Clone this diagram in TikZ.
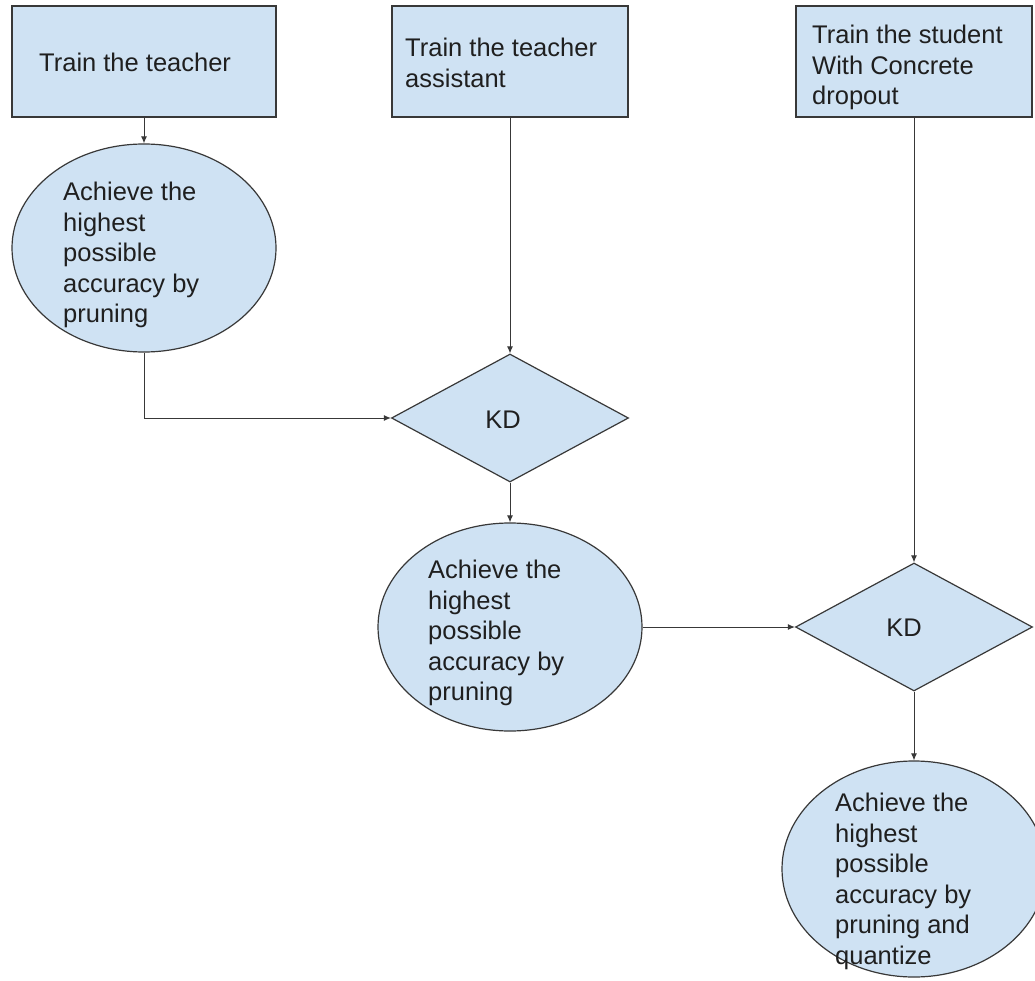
\documentclass[tikz,border=0pt]{standalone}
\usepackage{fontspec}
\setmainfont{Liberation Sans}
\usetikzlibrary{shapes.geometric,arrows.meta}
\definecolor{shapefill}{HTML}{CFE2F3}
\definecolor{outline}{HTML}{383838}
\definecolor{ink}{HTML}{1F1F1F}
\begin{document}
\begin{tikzpicture}[x=1pt,y=-1pt,
  shapebase/.style={draw=outline,fill=shapefill,line width=1.2pt,inner sep=0pt},
  procbox/.style={shapebase,rectangle,minimum height=111pt},
  oval/.style={shapebase,ellipse,minimum width=264pt,minimum height=208pt},
  choice/.style={shapebase,diamond,minimum width=237pt,minimum height=128pt},
  label/.style={font=\fontsize{25.5}{30.5}\selectfont,align=left,inner sep=0pt,
    anchor=north west,text=ink},
  tag/.style={font=\fontsize{25.5}{30.5}\selectfont,inner sep=0pt,text=ink},
  conn/.style={draw=outline,line width=1pt,-{Latex[length=7pt,width=6pt]}}]
\useasboundingbox (0,0) rectangle (1035,981);
\clip (0,0) rectangle (1035,981);
\fill[white] (0,0) rectangle (1035,981);

% top row of process boxes
\node[procbox,minimum width=264pt] (b1) at (144,61.5) {};
\node[procbox,minimum width=236pt] (b2) at (510,61.5) {};
\node[procbox,minimum width=236pt] (b3) at (914,61.5) {};

% pruning stages
\node[oval] (e1) at (144,248) {};
\node[oval] (e2) at (510,627) {};
\node[oval,minimum height=216pt] (e3) at (914,869) {};

% distillation steps
\node[choice] (d1) at (510,418) {};
\node[choice] (d2) at (914,627) {};

% connectors
\draw[conn] (b1.south) -- (e1.north);
\draw[conn] (e1.south) |- (d1.west);
\draw[conn] (b2.south) -- (d1.north);
\draw[conn] (d1.south) -- (e2.north);
\draw[conn] (e2.east) -- (d2.west);
\draw[conn] (b3.south) -- (d2.north);
\draw[conn] (d2.south) -- (e3.north);

% texts
\node[tag] (k1) at (503,420) {KD};
\node[tag] (k2) at (904,628) {KD};
\node[label] (t1) at (39,53) {Train the teacher};
\node[label] (t2) at (405,38) {Train the teacher\\assistant};
\node[label] (t3) at (812,25) {Train the student\\With Concrete\\dropout};
\node[label] (te1) at (63,182) {Achieve the\\highest\\possible\\accuracy by\\pruning};
\node[label] (te2) at (428,560) {Achieve the\\highest\\possible\\accuracy by\\pruning};
\node[label] (te3) at (835,793) {Achieve the\\highest\\possible\\accuracy by\\pruning and\\quantize};
\end{tikzpicture}
\end{document}
